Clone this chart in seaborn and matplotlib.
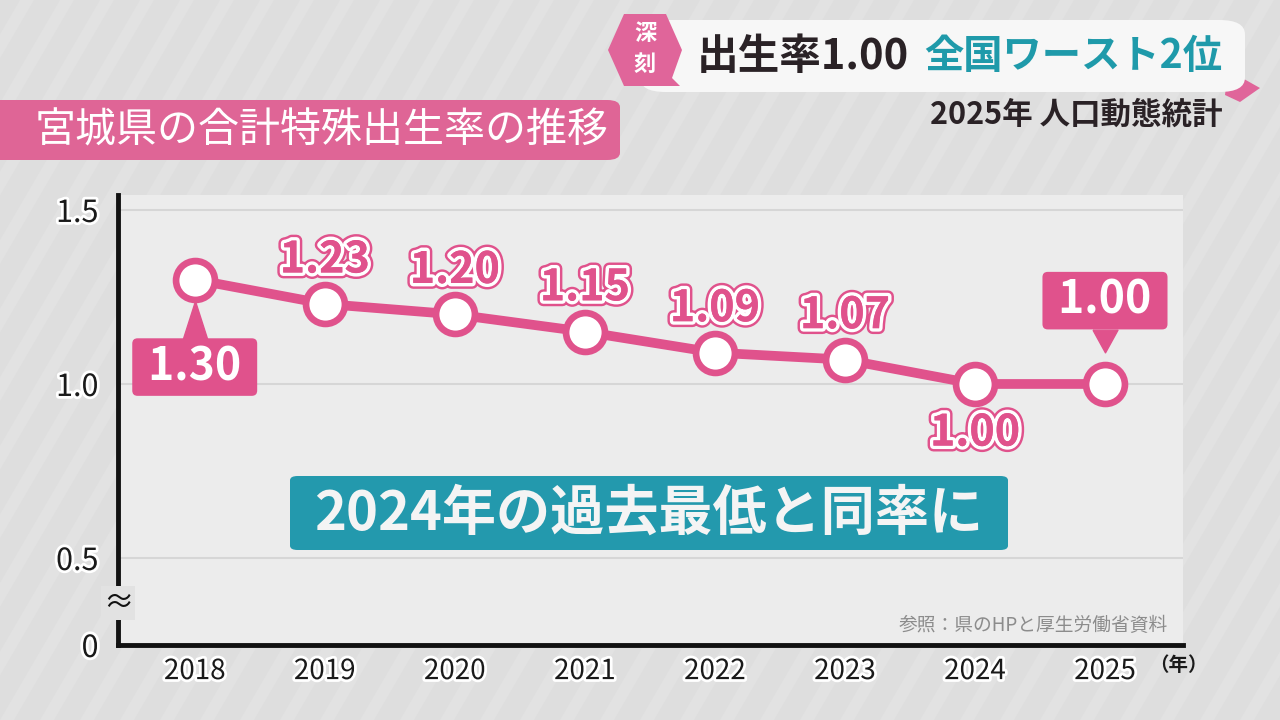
import numpy as np
import pandas as pd
import matplotlib
matplotlib.use("Agg")
import matplotlib.pyplot as plt
import matplotlib.patheffects as pe
import matplotlib.transforms as mtransforms
from matplotlib.patches import FancyBboxPatch, Polygon
from matplotlib.path import Path
import seaborn as sns

# data
years = [2018, 2019, 2020, 2021, 2022, 2023, 2024, 2025]
rates = [1.30, 1.23, 1.20, 1.15, 1.09, 1.07, 1.00, 1.00]
rate_labels = ["1.30", "1.23", "1.20", "1.15", "1.09", "1.07", "1.00", "1.00"]
ytick_vals = [0.25, 0.5, 1.0, 1.5]
ytick_text = ["0", "0.5", "1.0", "1.5"]

title = "宮城県の合計特殊出生率の推移"
head_main = "出生率1.00"
head_sub = "全国ワースト2位"
head_small = "2025年 人口動態統計"
tag = "深刻"
callout = "2024年の過去最低と同率に"
source = "参照：県のHPと厚生労働省資料"

PINK = "#e0528c"
TEAL = "#2399ad"
DARK = "#2a2226"

df = pd.DataFrame({"year": years, "rate": rates})

sns.set_style("white")
plt.rcParams["font.family"] = ["Noto Sans CJK JP", "DejaVu Sans"]

fig = plt.figure(figsize=(12.8, 7.2), dpi=100, facecolor="#dedede")


def fx(x):
    return x / 1280


def fy(y):
    return 1 - y / 720


# faint background stripes
for i in range(-20, 60):
    x0 = i * 40
    fig.patches.append(Polygon([(fx(x0), 0), (fx(x0 + 14), 0), (fx(x0 + 14 + 420), 1), (fx(x0 + 420), 1)],
                               closed=True, transform=fig.transFigure, fc="#e2e2e2", ec="none", zorder=-5))

ax = fig.add_axes([fx(118), 1 - 645 / 720, (1183 - 118) / 1280, (645 - 195) / 720])
ax.set_facecolor("#ececec")
ax.set_zorder(1)

sns.lineplot(data=df, x="year", y="rate", ax=ax, color=PINK, lw=7, marker="o",
             markersize=28, markerfacecolor="white", markeredgecolor=PINK, markeredgewidth=4.8,
             zorder=5)

ax.set_xlim(2017.41, 2025.6)
ax.set_ylim(0.25, 1.543)
ax.set_yticks(ytick_vals)
ax.set_yticklabels(ytick_text)
ax.set_xticks(years)
ax.set_xticklabels([str(y) for y in years])
ax.tick_params(axis="y", length=0, pad=14, labelsize=22, colors="#1a1a1a")
ax.tick_params(axis="x", length=0, pad=8, labelsize=20, colors="#1a1a1a")
for lab in ax.get_xticklabels() + ax.get_yticklabels():
    lab.set_path_effects([pe.withStroke(linewidth=4, foreground="white")])
ax.set_xlabel("")
ax.set_ylabel("")
for y in [0.5, 1.0, 1.5]:
    ax.axhline(y, color="#d6d6d6", lw=1.5, zorder=1)
for s in ["top", "right"]:
    ax.spines[s].set_visible(False)
for s in ["left", "bottom"]:
    ax.spines[s].set_color("#111111")
    ax.spines[s].set_linewidth(3.5)

# axis break mark
ax.text(2017.41, 0.37, "≈", ha="center", va="center", fontsize=22, color="#111111",
        bbox=dict(boxstyle="square,pad=0.05", fc="#e2e2e2", ec="none"), zorder=10, clip_on=False)
ax.text(2025.34, 0.19, "（年）", ha="left", va="center", fontsize=14,
        color="#1a1a1a", clip_on=False, fontweight="bold")

# value labels: pink text, white band, pink outline
outline = [pe.withStroke(linewidth=8.5, foreground=PINK), pe.withStroke(linewidth=5, foreground="white"),
           pe.Normal()]
for i, (yr, v, t) in enumerate(zip(years, rates, rate_labels)):
    if i == 0 or i == len(years) - 1:
        continue
    off = -35 if i == 6 else 32
    ax.annotate(t, xy=(yr, v), xytext=(0, off), textcoords="offset points", ha="center", va="center",
                fontsize=31, fontweight="bold", color=PINK, path_effects=outline, zorder=8)

# boxed labels for first and last
box = dict(boxstyle="round,pad=0.13,rounding_size=0.12", fc=PINK, ec="none")
up_tri = Path([(-0.32, -0.5), (0.32, -0.5), (0, 0.5), (-0.32, -0.5)])
down_tri = Path([(-0.55, 0.5), (0.55, 0.5), (0, -0.5), (-0.55, 0.5)])
ax.annotate(" " + rate_labels[0] + " ", xy=(years[0], rates[0]), xytext=(0, -63), textcoords="offset points",
            ha="center", va="center", fontsize=32, fontweight="bold", color="white", bbox=box, zorder=8)
ax.plot([years[0]], [rates[0]], marker=up_tri, markersize=29, color=PINK, zorder=8, lw=0,
        transform=ax.transData + mtransforms.ScaledTranslation(0, -30 / 72, fig.dpi_scale_trans))
ax.annotate(" " + rate_labels[-1] + " ", xy=(years[-1], rates[-1]), xytext=(0, 60), textcoords="offset points",
            ha="center", va="center", fontsize=32, fontweight="bold", color="white", bbox=box, zorder=8)
ax.plot([years[-1]], [rates[-1]], marker=down_tri, markersize=18, color=PINK, zorder=8, lw=0,
        transform=ax.transData + mtransforms.ScaledTranslation(0, 31 / 72, fig.dpi_scale_trans))

# callout box
fig.patches.append(FancyBboxPatch((fx(290), fy(550)), fx(1008 - 290), (550 - 476) / 720,
                                  boxstyle="round,pad=0,rounding_size=0.006", transform=fig.transFigure,
                                  fc=TEAL, ec="none", zorder=3))
fig.text(fx(649), fy(514), callout, ha="center", va="center", fontsize=39, fontweight="bold",
         color="#f4f4f4", zorder=4)

fig.text(fx(1168), fy(625), source, ha="right", va="center", fontsize=13.5, color="#8c8c8c", zorder=4)

# title box
fig.patches.append(FancyBboxPatch((fx(-20), fy(160)), fx(640), 60 / 720,
                                  boxstyle="round,pad=0,rounding_size=0.01", transform=fig.transFigure,
                                  fc="#df6596", ec="none", zorder=3))
fig.text(fx(322), fy(131), title, ha="center", va="center", fontsize=29.5, color="white", zorder=4)

# header banner
fig.patches.append(Polygon([(fx(1228), fy(70)), (fx(1260), fy(88)), (fx(1240), fy(102)), (fx(1225), fy(95))],
                           closed=True, transform=fig.transFigure, fc="#e0659a", ec="none", zorder=2))
fig.patches.append(FancyBboxPatch((fx(640), fy(92)), fx(605), 72 / 720,
                                  boxstyle="round,pad=0,rounding_size=0.02", transform=fig.transFigure,
                                  fc="#f7f7f7", ec="none", zorder=3))
fig.patches.append(Polygon([(fx(608), fy(50)), (fx(624), fy(14)), (fx(666), fy(14)), (fx(682), fy(50)),
                            (fx(672), fy(78)), (fx(680), fy(86)), (fx(624), fy(86))],
                           closed=True, transform=fig.transFigure, fc="#e0659a", ec="none", zorder=4))
fig.text(fx(645), fy(34), tag[0], ha="center", va="center", fontsize=16, color="white", fontweight="bold", zorder=5)
fig.text(fx(645), fy(64), tag[1], ha="center", va="center", fontsize=16, color="white", fontweight="bold", zorder=5)
fig.text(fx(697), fy(57), head_main, ha="left", va="center", fontsize=30, color=DARK, fontweight="bold", zorder=5)
fig.text(fx(1222), fy(57), head_sub, ha="right", va="center", fontsize=28.3, color="#1f9aaa", fontweight="bold", zorder=5)
fig.text(fx(1222), fy(115), head_small, ha="right", va="center", fontsize=22, color=DARK, fontweight="bold", zorder=5)

fig.savefig("out.png", dpi=100, facecolor=fig.get_facecolor())
